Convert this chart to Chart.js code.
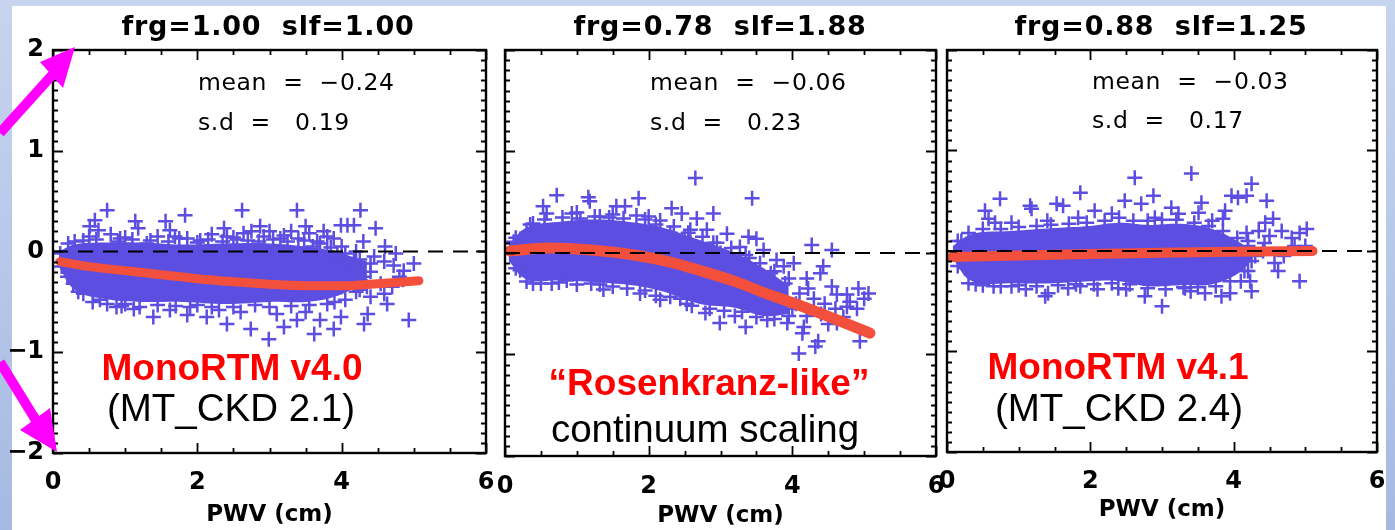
<!DOCTYPE html>
<html>
<head>
<meta charset="utf-8">
<script src="https://cdn.jsdelivr.net/npm/chart.js@4.4.0/dist/chart.umd.min.js"></script>
<style>
  html, body { margin: 0; padding: 0; }
  body {
    width: 1395px; height: 530px; position: relative; overflow: hidden;
    background: linear-gradient(180deg, #c7d4ee 0%, #b5c6e8 55%, #a6b9e1 100%);
  }
  #sheet { position: absolute; left: 12px; top: 6px; width: 1374px; height: 524px; background: #fff; }
  canvas { position: absolute; top: 0; }
  .txt { position: absolute; line-height: 1; white-space: pre; color: #000; }
</style>
</head>
<body>
<div id="sheet"></div>
<canvas id="c1" width="500" height="530" style="left:0px"></canvas>
<canvas id="c2" width="455" height="530" style="left:495px"></canvas>
<canvas id="c3" width="458" height="530" style="left:937px"></canvas>
<div id="labels"></div>
<svg width="1395" height="530" style="position:absolute;left:0;top:0">
  <line x1="0" y1="133" x2="54" y2="73" stroke="#ff00ff" stroke-width="10"/>
  <polygon points="75,47 40,62 63,88" fill="#ff00ff"/>
  <line x1="0" y1="362" x2="37" y2="422" stroke="#ff00ff" stroke-width="10"/>
  <polygon points="57,452 20,430 50,408" fill="#ff00ff"/>
</svg>
<script>
// ---- data ----
const frgVals = [1.00, 0.78, 0.88];
const slfVals = [1.00, 1.88, 1.25];
const meanVals = [-0.24, -0.06, -0.03];
const sdVals = [0.19, 0.23, 0.17];
const redNotes = ['MonoRTM v4.0', '\u201CRosenkranz-like\u201D', 'MonoRTM v4.1'];
const blackNotes = ['(MT_CKD 2.1)', 'continuum scaling', '(MT_CKD 2.4)'];

const xTickValues = [0, 2, 4, 6];
const xTickLabels = ['0', '2', '4', '6'];
const yTickValues = [-2, -1, 0, 1, 2];
const yTickLabels = ['\u22122', '\u22121', '0', '1', '2'];

// panel 1: frg=1.00 slf=1.00
const scatter1 = [[0.75,0.41],[0.58,0.31],[0.63,0.21],[0.51,0.25],[1.14,0.30],[1.18,0.23],[1.56,0.30],[1.62,0.21],
  [1.83,0.36],[1.69,0.15],[1.86,0.13],[2.04,0.11],[2.37,0.23],[2.41,0.15],[2.62,0.41],[2.64,0.18],[2.87,0.25],
  [2.92,0.15],[3.15,0.13],[3.20,0.16],[3.38,0.41],[3.50,0.25],[3.48,0.11],[3.66,0.10],[3.80,0.15],[3.89,0.13],
  [3.99,0.26],[4.08,0.26],[4.17,0.26],[4.26,0.41],[4.47,0.23],[3.94,-0.02],[4.17,-0.09],[4.40,-0.12],[4.59,-0.10],
  [4.72,-0.14],[4.86,-0.19],[5.00,-0.12],[4.80,-0.25],[4.54,-0.32],[4.59,-0.42],[4.63,-0.52],[4.93,-0.68],
  [4.31,-0.72],[4.36,-0.62],[3.99,-0.65],[3.89,-0.77],[3.62,-0.82],[2.99,-0.87],[2.74,-0.77],[3.20,-0.75],
  [3.38,-0.68],[2.41,-0.72],[2.13,-0.65],[1.86,-0.63],[1.39,-0.65],[1.62,-0.58],[1.12,-0.57],[0.88,-0.55],
  [0.65,-0.48],[0.42,-0.42],[0.28,-0.32],[0.24,-0.20],[0.14,-0.09],[0.21,0.08],[0.42,0.11],[0.93,0.13],[1.30,0.08],
  [0.50,0.15],[0.80,0.17],[1.00,0.14],[1.45,0.15],[2.20,0.17],[2.55,0.12],[2.75,0.20],[3.00,0.20],[3.30,0.20],
  [3.55,0.18],[3.75,0.20],[3.60,0.05],[3.80,0.00],[4.00,0.05],[4.20,0.00],[3.90,-0.10],[4.10,-0.20],[4.30,-0.25],
  [4.00,-0.35],[4.20,-0.40],[4.40,-0.45],[3.90,-0.50],[4.45,-0.05],[4.70,-0.35],[4.85,-0.28],[4.30,0.10],
  [4.60,0.05],[4.75,-0.02],[2.30,-0.58],[2.60,-0.60],[3.10,-0.62],[3.50,-0.60],[1.00,-0.52],[1.90,-0.55],[3.70,-0.68],
  [0.30,0.10],[0.60,0.12],[0.90,0.10],[1.10,0.12],[1.35,0.11],[1.60,0.10],[1.75,0.13],[2.00,0.09],[2.15,0.12],
  [2.35,0.10],[2.50,0.14],[2.70,0.11],[2.85,0.10],[3.05,0.12],[3.25,0.10],[3.40,0.13],[3.70,0.08],[3.85,0.04],
  [4.05,-0.02],[4.25,-0.08],[4.40,-0.20],[4.35,-0.35],[0.20,-0.25],[0.35,-0.40],[0.55,-0.50],[0.75,-0.52],
  [0.95,-0.54],[1.20,-0.55],[1.45,-0.53],[1.70,-0.54],[2.00,-0.53],[2.20,-0.55],[2.50,-0.55],[2.80,-0.53],
  [3.00,-0.55],[3.30,-0.54],[3.55,-0.53],[3.80,-0.52],[4.05,-0.48],[4.25,-0.38],[0.12,-0.15],[0.10,-0.02]];
const band1X = [0.08, 0.3, 0.7, 1.2, 1.8, 2.4, 3.0, 3.5, 3.9, 4.35];
const band1Hi = [0.0, 0.07, 0.09, 0.09, 0.07, 0.08, 0.08, 0.05, 0.0, -0.1];
const band1Lo = [-0.15, -0.38, -0.47, -0.5, -0.5, -0.52, -0.5, -0.5, -0.45, -0.3];
const fit1X = [0.1, 0.5, 1.0, 1.5, 2.0, 2.5, 3.0, 3.5, 4.0, 4.5, 5.07];
const fit1Y = [-0.10, -0.15, -0.19, -0.23, -0.27, -0.30, -0.325, -0.34, -0.34, -0.32, -0.29];

// panel 2: frg=0.78 slf=1.88
const scatter2 = [[2.65,0.74],[3.44,0.54],[0.72,0.57],[1.16,0.55],[1.18,0.51],[1.55,0.46],[1.67,0.46],[1.86,0.54],
  [0.53,0.46],[0.58,0.39],[0.93,0.39],[2.32,0.44],[2.46,0.39],[2.67,0.34],[2.90,0.39],[2.16,0.32],[1.83,0.37],
  [2.58,0.23],[2.81,0.23],[3.09,0.19],[3.39,0.16],[3.50,0.14],[3.27,0.06],[3.60,0.03],[3.78,-0.07],[3.88,-0.13],
  [4.02,-0.10],[4.27,0.08],[4.55,0.03],[4.43,-0.13],[4.39,-0.20],[4.20,-0.25],[4.22,-0.35],[4.55,-0.33],
  [4.62,-0.41],[4.76,-0.41],[4.92,-0.35],[5.06,-0.40],[4.76,-0.53],[4.71,-0.63],[4.62,-0.69],[4.94,-0.87],
  [4.36,-0.87],[4.32,-0.92],[4.09,-0.99],[4.14,-0.79],[4.16,-0.73],[3.93,-0.69],[3.65,-0.66],[3.35,-0.73],
  [2.99,-0.69],[2.79,-0.59],[2.53,-0.50],[2.44,-0.45],[2.16,-0.46],[1.88,-0.40],[1.37,-0.36],[1.32,-0.31],
  [0.86,-0.27],[0.65,-0.30],[0.39,-0.30],[0.21,-0.17],[0.12,0.11],[0.39,0.29],[1.32,0.36],
  [2.30,0.20],[2.50,0.15],[2.90,0.10],[3.00,0.00],[3.40,-0.05],[3.70,-0.20],[3.95,-0.25],[4.10,-0.40],
  [4.30,-0.45],[4.45,-0.50],[4.00,-0.55],[4.20,-0.62],[3.80,-0.50],[4.50,-0.70],[4.40,-0.60],[4.60,-0.55],
  [4.80,-0.48],[4.90,-0.55],[5.00,-0.45],[1.00,0.40],[1.50,0.38],[2.00,0.36],[0.30,0.20],[3.20,-0.62],
  [0.15,0.15],[0.35,0.28],[0.55,0.33],[0.80,0.35],[1.05,0.34],[1.25,0.36],[1.45,0.35],[1.65,0.34],[1.95,0.33],
  [2.10,0.28],[2.35,0.26],[2.55,0.20],[2.75,0.16],[2.95,0.10],[3.15,0.05],[3.35,-0.02],[3.55,-0.10],[3.75,-0.18],
  [3.90,-0.30],[0.15,-0.15],[0.30,-0.28],[0.50,-0.30],[0.75,-0.29],[1.00,-0.31],[1.20,-0.30],[1.50,-0.33],
  [1.70,-0.35],[1.95,-0.37],[2.10,-0.42],[2.30,-0.43],[2.60,-0.52],[2.85,-0.55],[3.05,-0.57],[3.30,-0.58],
  [3.50,-0.63],[3.75,-0.65],[3.95,-0.62],[4.05,-0.50]];
const band2X = [0.05, 0.3, 0.8, 1.3, 1.8, 2.2, 2.7, 3.2, 3.6, 3.95];
const band2Hi = [0.08, 0.25, 0.31, 0.33, 0.30, 0.25, 0.13, 0.0, -0.15, -0.32];
const band2Lo = [-0.08, -0.26, -0.27, -0.29, -0.32, -0.38, -0.50, -0.54, -0.62, -0.60];
const fit2X = [0.07, 0.6, 1.2, 1.8, 2.3, 2.7, 3.2, 3.64, 4.0, 4.34, 4.7, 5.08];
const fit2Y = [0.02, 0.05, 0.03, -0.02, -0.09, -0.17, -0.28, -0.40, -0.49, -0.58, -0.68, -0.79];

// panel 3: frg=0.88 slf=1.25
const scatter3 = [[2.62,0.73],[3.41,0.77],[4.25,0.67],[0.74,0.52],[1.86,0.58],[2.88,0.55],[1.16,0.45],[1.18,0.42],
  [1.53,0.47],[1.62,0.45],[0.53,0.40],[0.58,0.32],[0.67,0.28],[3.55,0.48],[3.51,0.38],[3.97,0.55],[4.06,0.53],
  [4.18,0.55],[4.46,0.50],[3.88,0.40],[3.85,0.32],[4.44,0.28],[4.55,0.32],[4.67,0.20],[4.81,0.13],[4.92,0.18],
  [5.02,0.22],[4.18,0.18],[4.20,0.10],[4.43,0.08],[4.41,0.00],[4.57,-0.12],[4.62,-0.20],[4.92,-0.30],[4.20,-0.20],
  [4.23,-0.30],[3.00,-0.55],[2.76,-0.45],[1.37,-0.45],[1.41,-0.42],[3.60,-0.42],[3.83,-0.45],[3.95,-0.42],
  [4.25,-0.40],[0.65,-0.35],[0.90,-0.35],[1.69,-0.37],[1.86,-0.35],[2.39,-0.37],[2.50,-0.38],[3.32,-0.37],
  [2.30,0.37],[2.48,0.50],[2.71,0.47],[3.13,0.43],[3.23,0.37],[2.06,0.40],[1.83,0.33],[0.20,0.10],[0.25,-0.17],
  [4.30,-0.05],[4.50,0.15],[4.70,-0.05],[4.85,0.05],[5.00,0.05],[4.10,-0.30],[3.40,-0.40],[2.10,-0.38],
  [1.10,-0.38],[0.40,-0.33],[2.90,0.33],[1.40,0.30],[0.90,0.28],[3.70,0.30],[4.35,0.20],
  [0.15,0.10],[0.30,0.18],[0.50,0.22],[0.75,0.22],[1.00,0.24],[1.25,0.25],[1.45,0.26],[1.70,0.27],[1.95,0.28],
  [2.20,0.30],[2.40,0.33],[2.60,0.30],[2.80,0.30],[3.00,0.31],[3.20,0.31],[3.45,0.28],[3.65,0.25],[3.85,0.20],
  [4.05,0.13],[4.20,0.05],[0.15,-0.15],[0.30,-0.32],[0.50,-0.34],[0.75,-0.35],[1.00,-0.34],[1.25,-0.35],
  [1.55,-0.34],[1.80,-0.33],[2.05,-0.33],[2.30,-0.32],[2.55,-0.33],[2.80,-0.37],[3.05,-0.38],[3.30,-0.36],
  [3.50,-0.36],[3.75,-0.35],[3.95,-0.30],[4.15,-0.20],[4.25,-0.10]];
const band3X = [0.08, 0.35, 0.9, 1.5, 2.0, 2.4, 2.8, 3.25, 3.7, 4.05, 4.25];
const band3Hi = [0.05, 0.17, 0.20, 0.23, 0.25, 0.28, 0.26, 0.27, 0.22, 0.10, 0.0];
const band3Lo = [-0.08, -0.30, -0.32, -0.32, -0.30, -0.30, -0.35, -0.34, -0.33, -0.23, -0.10];
const fit3X = [0.07, 1.0, 2.0, 3.0, 4.0, 5.1];
const fit3Y = [-0.06, -0.045, -0.03, -0.017, -0.007, 0.0];

const BLUE = '#5b4ee0';
const RED = '#f2503c';

// ---- box with inward IDL-style ticks on all four sides ----
const xMinorStep = 0.5, yMinorStep = 0.1;
const boxTicks = {
  id: 'boxTicks',
  afterDatasetsDraw(chart) {
    const { ctx, chartArea: a, scales: { x, y } } = chart;
    ctx.save();
    ctx.strokeStyle = '#000';
    ctx.lineWidth = 1.8;
    ctx.beginPath();
    for (let v = 0; v <= 6 + 1e-9; v += xMinorStep) {
      const len = xTickValues.some(t => Math.abs(t - v) < 1e-6) ? 10 : 5;
      const px = Math.round(x.getPixelForValue(v)) + 0.5;
      ctx.moveTo(px, a.bottom); ctx.lineTo(px, a.bottom - len);
      ctx.moveTo(px, a.top); ctx.lineTo(px, a.top + len);
    }
    for (let v = -2; v <= 2 + 1e-9; v += yMinorStep) {
      const len = yTickValues.some(t => Math.abs(t - v) < 1e-6) ? 10 : 5;
      const py = Math.round(y.getPixelForValue(v)) + 0.5;
      ctx.moveTo(a.left, py); ctx.lineTo(a.left + len, py);
      ctx.moveTo(a.right, py); ctx.lineTo(a.right - len, py);
    }
    ctx.stroke();
    ctx.lineWidth = 2.4;
    ctx.strokeRect(a.left, a.top, a.right - a.left, a.bottom - a.top);
    ctx.restore();
  }
};

const pts = (xs, ys) => xs.map((x, i) => ({ x: x, y: ys[i] }));

function makePanel(id, p) {
  return new Chart(document.getElementById(id), {
    type: 'scatter',
    data: {
      datasets: [
        { type: 'line', data: pts(p.bandX, p.bandHi), fill: '+1', backgroundColor: BLUE,
          borderWidth: 0, pointRadius: 0, tension: 0.4, order: 4 },
        { type: 'line', data: pts(p.bandX, p.bandLo), fill: false, borderWidth: 0,
          pointRadius: 0, tension: 0.4, order: 5 },
        { type: 'scatter', data: p.scatter.map(d => ({ x: d[0], y: d[1] })), pointStyle: 'cross',
          pointRadius: 7.5, borderWidth: 2.5, borderColor: BLUE, backgroundColor: BLUE, order: 3 },
        { type: 'line', data: pts(p.fitX, p.fitY), borderColor: RED, borderWidth: p.fitWidth,
          pointRadius: 0, cubicInterpolationMode: 'monotone', borderCapStyle: 'round', order: 1 },
        { type: 'line', data: [{ x: 0, y: 0 }, { x: 6, y: 0 }], borderColor: '#000', borderWidth: 2,
          borderDash: [15, 10], pointRadius: 0, order: 0 }
      ]
    },
    options: {
      responsive: false,
      animation: false,
      events: [],
      layout: { padding: { top: 50, right: p.padRight, left: 0, bottom: 0 } },
      plugins: { legend: { display: false }, tooltip: { enabled: false } },
      scales: {
        x: {
          type: 'linear', min: 0, max: 6,
          // fixed axis height; keep edge labels from pushing the plot box inward
          afterFit: s => { s.height = p.xAxisH; s.paddingLeft = 0; s.paddingRight = 0; },
          grid: { display: false, drawTicks: false },
          border: { display: false },
          ticks: {
            stepSize: 2, padding: p.xTickPad, color: '#000',
            font: { family: 'DejaVu Sans', weight: 'bold', size: 24 },
            callback: v => { const i = xTickValues.indexOf(v); return i < 0 ? '' : xTickLabels[i]; }
          },
          title: {
            display: true, text: 'PWV (cm)', color: '#000',
            font: { family: 'DejaVu Sans', weight: 'bold', size: 23 },
            padding: { top: 0, bottom: p.titlePadB }
          }
        },
        y: {
          type: 'linear', min: -2, max: 2,
          afterFit: s => { s.width = p.yAxisW; s.paddingTop = 0; s.paddingBottom = 0; },
          grid: { display: false, drawTicks: false },
          border: { display: false },
          ticks: {
            display: p.showY, stepSize: 1, padding: 9, color: '#000',
            font: { family: 'DejaVu Sans', weight: 'bold', size: 24 },
            callback: v => { const i = yTickValues.indexOf(v); return i < 0 ? '' : yTickLabels[i]; }
          }
        }
      }
    },
    plugins: [boxTicks]
  });
}

makePanel('c1', { scatter: scatter1, bandX: band1X, bandHi: band1Hi, bandLo: band1Lo, fitX: fit1X, fitY: fit1Y,
  fitWidth: 9, padRight: 14, xAxisH: 77, yAxisW: 53, showY: true, xTickPad: 15, titlePadB: 1 });
makePanel('c2', { scatter: scatter2, bandX: band2X, bandHi: band2Hi, bandLo: band2Lo, fitX: fit2X, fitY: fit2Y,
  fitWidth: 11, padRight: 14, xAxisH: 74, yAxisW: 10, showY: false, xTickPad: 16, titlePadB: 0 });
makePanel('c3', { scatter: scatter3, bandX: band3X, bandHi: band3Hi, bandLo: band3Lo, fitX: fit3X, fitY: fit3Y,
  fitWidth: 10, padRight: 18, xAxisH: 78, yAxisW: 10, showY: false, xTickPad: 15, titlePadB: 6 });

// ---- text overlays (titles, statistics, notes) ----
const host = document.getElementById('labels');
function label(text, x, baseline, css, center) {
  const d = document.createElement('div');
  d.className = 'txt';
  d.textContent = text;
  Object.assign(d.style, css);
  const fs = parseFloat(css.fontSize);
  d.style.left = x + 'px';
  d.style.top = (baseline - 0.846 * fs) + 'px';
  if (center) d.style.transform = 'translateX(-50%)';
  host.appendChild(d);
}
const fmt = v => (v < 0 ? '\u2212' : '') + Math.abs(v).toFixed(2);

const titleX = [268, 720, 1161];
const statX = [198, 650, 1092];
const meanBase = [91, 91, 90];
const sdBase = [131, 131, 129];
const noteX = [232, 709, 1118];
const subX = [231, 705, 1119];
const noteBase = [380, 395, 379];
const subBase = [422, 443, 422];

for (let i = 0; i < 3; i++) {
  label('frg=' + frgVals[i].toFixed(2) + '  slf=' + slfVals[i].toFixed(2), titleX[i], 35,
    { fontFamily: 'DejaVu Sans', fontSize: '27px', fontWeight: 'bold', letterSpacing: '0.8px' }, true);
  label('mean  =  ' + fmt(meanVals[i]), statX[i], meanBase[i],
    { fontFamily: 'DejaVu Sans', fontSize: '23.5px', letterSpacing: '0.6px' }, false);
  label('s.d  =   ' + fmt(sdVals[i]), statX[i], sdBase[i],
    { fontFamily: 'DejaVu Sans', fontSize: '23.5px', letterSpacing: '0.6px' }, false);
  label(redNotes[i], noteX[i], noteBase[i],
    { fontFamily: 'Liberation Sans', fontSize: '37px', fontWeight: 'bold', color: '#ff0000' }, true);
  label(blackNotes[i], subX[i], subBase[i],
    { fontFamily: 'Liberation Sans', fontSize: '38.5px' }, true);
}
</script>
</body>
</html>
